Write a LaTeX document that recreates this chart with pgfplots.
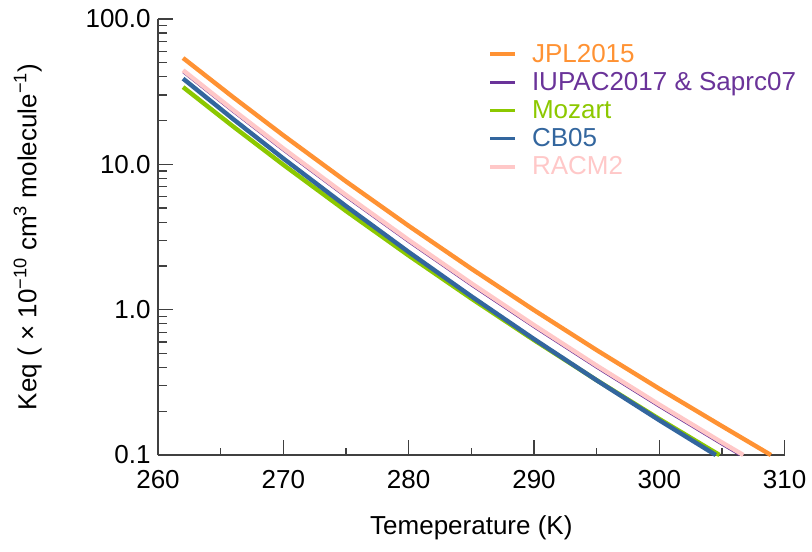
\documentclass[border=0pt]{standalone}
\usepackage{pgfplots}
\pgfplotsset{compat=1.18}
\usepackage{fontspec}
\setmainfont{Liberation Sans}

\definecolor{cjpl}{HTML}{FF9233}
\definecolor{ciupac}{HTML}{6A3399}
\definecolor{cmoz}{HTML}{8CC800}
\definecolor{ccb}{HTML}{33669E}
\definecolor{cracm}{HTML}{FFC8C8}

% T (K), Keq (1e-10 cm3 molecule-1)
\pgfplotstableread{
T Keq
262 53.9
266 28.96
270 15.83
275 7.63
280 3.774
285 1.914
290 0.993
295 0.527
300 0.2857
305 0.158
308.9 0.100
}\jpl
\pgfplotstableread{
T Keq
262 43.0
266 22.92
270 12.44
275 5.947
280 2.918
285 1.468
290 0.7565
295 0.3985
300 0.2144
305 0.1178
306.4 0.100
}\iupac
\pgfplotstableread{
T Keq
262 34.0
266 18.21
270 9.935
275 4.778
280 2.358
285 1.193
290 0.6176
295 0.3272
300 0.1769
304.8 0.100
}\mozart
\pgfplotstableread{
T Keq
262 38.9
266 20.47
270 10.97
275 5.160
280 2.494
285 1.236
290 0.628
295 0.3266
300 0.1734
304.5 0.100
}\cbfive
\pgfplotstableread{
T Keq
262 44.4
266 23.67
270 12.86
275 6.147
280 3.017
285 1.519
290 0.783
295 0.4124
300 0.2221
305 0.1220
306.7 0.100
}\racm

\begin{document}
\begin{tikzpicture}
\begin{axis}[
    scale only axis,
    width=470pt, height=327pt,
    font=\fontsize{19.5}{22}\selectfont,
    ymode=log,
    xmin=260, xmax=310, ymin=0.1, ymax=100,
    xtick={260,270,...,310},
    minor x tick num=1,
    ytick={0.1,1,10,100},
    yticklabels={0.1,1.0,10.0,100.0},
    extra y ticks={0.2,0.3,0.4,0.5,0.6,0.7,0.8,0.9,2,3,4,5,6,7,8,9,20,30,40,50,60,70,80,90},
    extra y tick labels={},
    extra y tick style={major tick length=7pt},
    /pgf/number format/assume math mode=true,
    axis x line*=bottom, axis y line*=left,
    axis line style={draw=black!75, line width=0.9pt},
    tick style={draw=black!75, line width=0.9pt},
    tick align=inside,
    major tick length=11pt, minor tick length=5.5pt,
    xticklabel style={yshift=-8pt},
    yticklabel style={xshift=-2pt},
    xlabel={Temeperature (K)},
    ylabel={Keq ( × 10\textsuperscript{−10} cm\textsuperscript{3} molecule\textsuperscript{−1})},
    xlabel style={yshift=-13pt},
    ylabel style={yshift=26pt},
    legend style={draw=none, fill=none, at={(0.52,0.955)}, anchor=north west,
        row sep=2pt, font=\fontsize{19.5}{21}\selectfont},
    legend cell align=left,
    legend image code/.code={\path[draw=none] (0pt,0pt) -- (29.5pt,0pt);
        \draw[#1, line width=2.8pt] (0pt,0pt) -- (19pt,0pt);},
    clip=false,
]
\addplot[cjpl, line width=3.3pt] table[x=T, y=Keq] {\jpl};
\addlegendentry{\textcolor{cjpl}{JPL2015}}
\addplot[ciupac, line width=1.5pt] table[x=T, y=Keq] {\iupac};
\addlegendentry{\textcolor{ciupac}{IUPAC2017 \& Saprc07}}
\addplot[cmoz, line width=3.3pt] table[x=T, y=Keq] {\mozart};
\addlegendentry{\textcolor{cmoz}{Mozart}}
\addplot[ccb, line width=3.3pt] table[x=T, y=Keq] {\cbfive};
\addlegendentry{\textcolor{ccb}{CB05}}
\addplot[cracm, line width=3.3pt] table[x=T, y=Keq] {\racm};
\addlegendentry{\textcolor{cracm}{RACM2}}
\end{axis}
\pgfresetboundingbox
\path[use as bounding box] ([shift={(-118.5pt,-72.75pt)}]current axis.south west)
    rectangle ([shift={(490.5pt,341.25pt)}]current axis.south west);
\end{tikzpicture}
\end{document}
